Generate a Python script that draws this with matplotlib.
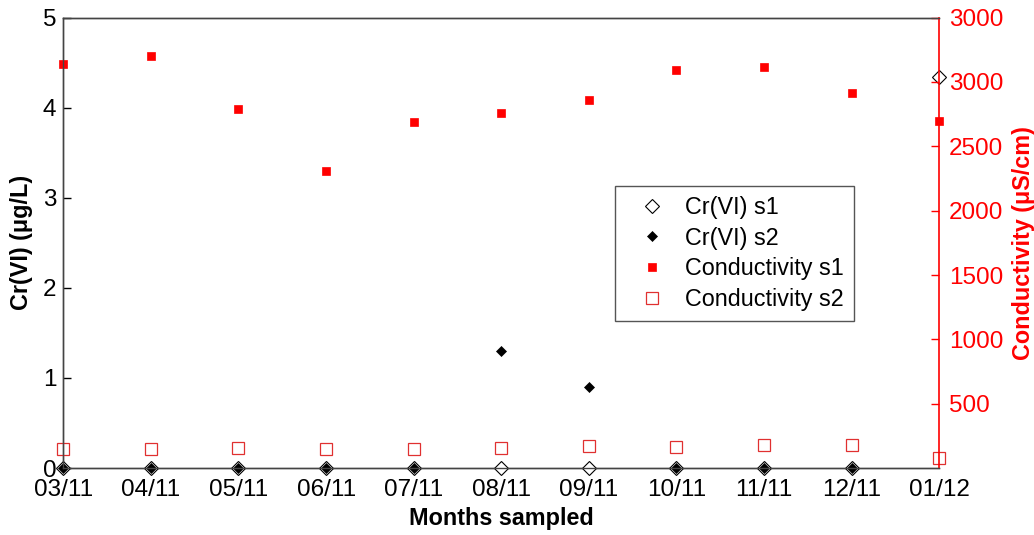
import numpy as np
import matplotlib
import matplotlib.pyplot as plt
matplotlib.use('agg')

plt.rcParams['font.family'] = ['Liberation Sans', 'DejaVu Sans']

# data
months = ['03/11', '04/11', '05/11', '06/11', '07/11', '08/11',
          '09/11', '10/11', '11/11', '12/11', '01/12']
cr_s1 = [0, 0, 0, 0, 0, 0, 0, 0, 0, 0, 4.34]
cr_s2 = [0, 0, 0, 0, 0, 1.3, 0.9, 0, 0, 0, np.nan]
cond_s1 = [3139, 3200, 2790, 2306, 2686, 2760, 2861, 3097, 3114, 2915, 2694]
cond_s2 = [150, 148, 155, 148, 145, 153, 171, 166, 180, 180, 75]

cr_ticks = [0, 1, 2, 3, 4, 5]
cond_ticks = [500, 1000, 1500, 2000, 2500, 3000, 3500]
cond_ticklabels = ['500', '1000', '1500', '2000', '2500', '3000', '3000']

RED = '#ff0000'
GREY = '#444444'
TICK_FS = 17.5
LABEL_FS = 16.8

x = np.arange(len(months))

fig = plt.figure(figsize=(10.34, 5.35), dpi=100)
ax = fig.add_axes([0.0612, 0.1252, 0.8472, 0.8418])
ax2 = ax.twinx()

h1, = ax.plot(x, cr_s1, linestyle='none', marker='D', markersize=6.8,
              markerfacecolor='white', markeredgecolor='black',
              markeredgewidth=0.8, clip_on=False, zorder=3,
              label='Cr(VI) s1')
h2, = ax.plot(x, cr_s2, linestyle='none', marker='D', markersize=4.8,
              markerfacecolor='black', markeredgecolor='black',
              markeredgewidth=0.5, clip_on=False, zorder=4,
              label='Cr(VI) s2')
h3, = ax2.plot(x, cond_s1, linestyle='none', marker='s', markersize=5.8,
               markerfacecolor=RED, markeredgecolor=RED,
               markeredgewidth=0.5, clip_on=False, label='Conductivity s1')
h4, = ax2.plot(x, cond_s2, linestyle='none', marker='s', markersize=8,
               markerfacecolor='none', markeredgecolor='#e03030',
               markeredgewidth=0.9, clip_on=False, label='Conductivity s2')

ax.set_xlim(0, 10)
ax.set_ylim(0, 5)
ax2.set_ylim(0, 3500)

ax.set_xticks(x)
ax.set_xticklabels(months)
ax.set_yticks(cr_ticks)
ax2.set_yticks(cond_ticks)
ax2.set_yticklabels(cond_ticklabels)

ax.tick_params(axis='x', direction='in', length=0, pad=8, labelsize=TICK_FS)
ax.tick_params(axis='y', direction='in', length=6, width=1, pad=5,
               labelsize=TICK_FS, colors='black')
ax2.tick_params(axis='y', direction='in', length=6, width=1, pad=7,
                labelsize=TICK_FS, colors=RED)

for a in (ax, ax2):
    for side in ('left', 'top', 'bottom'):
        a.spines[side].set_color(GREY)
        a.spines[side].set_linewidth(1.0)
    a.spines['right'].set_color(RED)
    a.spines['right'].set_linewidth(1.2)
ax.spines['right'].set_visible(False)

ax.set_xlabel('Months sampled', fontsize=LABEL_FS, fontweight='bold',
              labelpad=4)
ax.set_ylabel('Cr(VI) (μg/L)', fontsize=LABEL_FS, fontweight='bold',
              labelpad=7)
ax2.set_ylabel('Conductivity (μS/cm)', fontsize=LABEL_FS, fontweight='bold',
               color=RED, labelpad=6)

leg = ax2.legend(handles=[h1, h2, h3, h4], loc='upper left',
                 bbox_to_anchor=(0.5948, 0.6523),
                 bbox_transform=fig.transFigure, fontsize=LABEL_FS,
                 frameon=True, fancybox=False, framealpha=1,
                 edgecolor='#555555', borderpad=0.42, labelspacing=0.33,
                 handletextpad=0.24, handlelength=2.36, borderaxespad=0)
leg.get_frame().set_linewidth(1.0)

fig.savefig('out.png', dpi=100)
